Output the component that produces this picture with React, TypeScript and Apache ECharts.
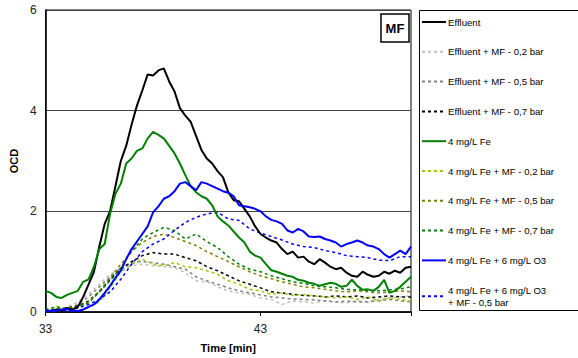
import React, { useEffect, useRef } from "react";
import * as echarts from "echarts";

// time axis for the filtered (dashed) series, 0.5 min steps
const times = [33, 33.5, 34, 34.5, 35, 35.5, 36, 36.5, 37, 37.5, 38, 38.5, 39, 39.5, 40, 40.5, 41, 41.5, 42, 42.5, 43, 43.5, 44, 44.5, 45, 45.5, 46, 46.5, 47, 47.5, 48, 48.5, 49, 49.5, 50];
// time axis for the unfiltered (solid) series, 0.25 min steps
const timesFine = [33, 33.25, 33.5, 33.75, 34, 34.25, 34.5, 34.75, 35, 35.25, 35.5, 35.75, 36, 36.25, 36.5, 36.75, 37, 37.25, 37.5, 37.75, 38, 38.25, 38.5, 38.75, 39, 39.25, 39.5, 39.75, 40, 40.25, 40.5, 40.75, 41, 41.25, 41.5, 41.75, 42, 42.25, 42.5, 42.75, 43, 43.25, 43.5, 43.75, 44, 44.25, 44.5, 44.75, 45, 45.25, 45.5, 45.75, 46, 46.25, 46.5, 46.75, 47, 47.25, 47.5, 47.75, 48, 48.25, 48.5, 48.75, 49, 49.25, 49.5, 49.75, 50];

const effluent = [0.0, 0.02, 0.05, 0.03, 0.08, 0.05, 0.1, 0.3, 0.55, 0.8, 1.3, 1.75, 2.0, 2.5, 3.0, 3.3, 3.72, 4.1, 4.4, 4.72, 4.7, 4.8, 4.84, 4.58, 4.38, 4.05, 3.9, 3.78, 3.5, 3.22, 3.05, 2.95, 2.8, 2.68, 2.38, 2.22, 2.2, 2.05, 1.9, 1.7, 1.55, 1.48, 1.42, 1.38, 1.25, 1.15, 1.2, 1.08, 1.1, 1.0, 0.95, 1.05, 0.98, 0.9, 0.85, 0.88, 0.78, 0.72, 0.7, 0.8, 0.74, 0.7, 0.72, 0.8, 0.76, 0.82, 0.78, 0.88, 0.9];
const effMF02 = [0.0, 0.02, 0.1, 0.2, 0.35, 0.55, 0.75, 0.85, 0.92, 0.95, 0.92, 0.9, 0.88, 0.78, 0.62, 0.6, 0.5, 0.42, 0.38, 0.35, 0.28, 0.25, 0.15, 0.22, 0.2, 0.18, 0.22, 0.2, 0.18, 0.22, 0.2, 0.25, 0.28, 0.3, 0.32];
const effMF05 = [0.0, 0.03, 0.06, 0.15, 0.3, 0.5, 0.7, 0.88, 0.98, 1.0, 0.98, 0.95, 0.9, 0.85, 0.7, 0.62, 0.55, 0.48, 0.42, 0.38, 0.34, 0.3, 0.28, 0.26, 0.25, 0.24, 0.22, 0.2, 0.22, 0.2, 0.2, 0.22, 0.25, 0.22, 0.2];
const effMF07 = [0.0, 0.05, 0.08, 0.12, 0.22, 0.4, 0.65, 0.85, 1.0, 1.12, 1.18, 1.15, 1.15, 1.08, 1.02, 0.9, 0.82, 0.72, 0.62, 0.55, 0.48, 0.4, 0.38, 0.35, 0.33, 0.32, 0.3, 0.32, 0.3, 0.32, 0.28, 0.3, 0.32, 0.3, 0.3];
const fe = [0.42, 0.38, 0.3, 0.28, 0.34, 0.38, 0.42, 0.6, 0.65, 0.9, 1.25, 1.35, 1.95, 2.35, 2.55, 2.95, 3.05, 3.2, 3.25, 3.45, 3.58, 3.52, 3.45, 3.3, 3.15, 2.95, 2.72, 2.5, 2.38, 2.3, 2.25, 2.12, 1.9, 1.8, 1.72, 1.6, 1.48, 1.38, 1.2, 1.12, 1.08, 0.95, 0.83, 0.8, 0.76, 0.72, 0.7, 0.64, 0.62, 0.58, 0.56, 0.52, 0.55, 0.58, 0.56, 0.5, 0.52, 0.64, 0.52, 0.44, 0.45, 0.42, 0.5, 0.64, 0.38, 0.42, 0.5, 0.6, 0.7];
const feMF02 = [0.02, 0.12, 0.05, 0.02, 0.08, 0.2, 0.48, 0.8, 0.95, 1.05, 0.95, 0.92, 0.98, 0.9, 0.88, 0.82, 0.75, 0.62, 0.55, 0.45, 0.42, 0.35, 0.38, 0.33, 0.35, 0.32, 0.3, 0.28, 0.3, 0.25, 0.3, 0.22, 0.28, 0.25, 0.22];
const feMF05 = [0.02, 0.05, 0.08, 0.1, 0.2, 0.42, 0.68, 0.95, 1.2, 1.38, 1.5, 1.55, 1.48, 1.4, 1.32, 1.2, 1.1, 1.0, 0.9, 0.8, 0.72, 0.66, 0.6, 0.55, 0.5, 0.48, 0.45, 0.42, 0.4, 0.42, 0.4, 0.38, 0.4, 0.42, 0.4];
const feMF07 = [0.05, 0.1, 0.04, 0.12, 0.18, 0.4, 0.62, 0.88, 1.2, 1.45, 1.58, 1.68, 1.62, 1.45, 1.55, 1.4, 1.28, 1.1, 0.95, 0.85, 0.8, 0.72, 0.66, 0.6, 0.57, 0.52, 0.5, 0.48, 0.45, 0.44, 0.43, 0.42, 0.44, 0.46, 0.5];
const feO3 = [0.0, 0.03, 0.02, 0.05, 0.06, 0.02, 0.02, 0.05, 0.1, 0.15, 0.25, 0.38, 0.52, 0.68, 0.82, 1.05, 1.25, 1.4, 1.55, 1.7, 1.98, 2.1, 2.25, 2.3, 2.4, 2.55, 2.58, 2.5, 2.42, 2.58, 2.55, 2.5, 2.45, 2.4, 2.37, 2.3, 2.12, 2.1, 2.08, 2.05, 2.0, 1.9, 1.83, 1.8, 1.75, 1.62, 1.58, 1.65, 1.6, 1.5, 1.49, 1.5, 1.45, 1.42, 1.38, 1.3, 1.35, 1.38, 1.42, 1.38, 1.32, 1.3, 1.25, 1.15, 1.08, 1.15, 1.22, 1.15, 1.3];
const feO3MF05 = [0.03, 0.05, 0.02, 0.08, 0.15, 0.25, 0.4, 0.65, 0.95, 1.2, 1.35, 1.45, 1.62, 1.78, 1.88, 1.95, 1.98, 1.85, 1.82, 1.65, 1.57, 1.5, 1.43, 1.35, 1.3, 1.28, 1.22, 1.18, 1.12, 1.1, 1.08, 1.03, 1.02, 1.1, 1.1];

const seriesNames = [
  "Effluent",
  "Effluent + MF - 0,2 bar",
  "Effluent + MF - 0,5 bar",
  "Effluent + MF - 0,7 bar",
  "4 mg/L Fe",
  "4 mg/L Fe + MF - 0,2 bar",
  "4 mg/L Fe + MF - 0,5 bar",
  "4 mg/L Fe + MF - 0,7 bar",
  "4 mg/L Fe + 6 mg/L O3",
  "4 mg/L Fe + 6 mg/L O3\n+ MF - 0,5 bar",
];
const seriesValues = [effluent, effMF02, effMF05, effMF07, fe, feMF02, feMF05, feMF07, feO3, feO3MF05];
const seriesColors = ["#000000", "#c0c0c0", "#808080", "#000000", "#008000", "#99cc00", "#808000", "#008000", "#0000ff", "#0000ff"];
const seriesDashed = [false, true, true, true, false, true, true, true, false, true];

const yTicks = [0, 2, 4, 6];
const xTicks = [33, 43];

export default function App() {
  const ref = useRef<HTMLDivElement>(null);
  useEffect(() => {
    if (!ref.current) return;
    const chart = echarts.init(ref.current, null, { renderer: "svg" });
    const font = "Liberation Sans, Arial, sans-serif";
    chart.setOption({
      animation: false,
      grid: { left: 43, top: 10, right: 167, bottom: 46, show: true, borderColor: "#000", borderWidth: 1 },
      xAxis: {
        type: "value",
        min: 33,
        max: 50,
        interval: 10,
        name: "Time [min]",
        nameLocation: "middle",
        nameGap: 30,
        nameTextStyle: { fontFamily: font, fontSize: 11, fontWeight: "bold", color: "#000" },
        axisLine: { lineStyle: { color: "#000", width: 1.5 } },
        axisTick: { show: true, length: 4, lineStyle: { color: "#000" } },
        axisLabel: {
          fontFamily: font, fontSize: 12, color: "#222", margin: 11,
          formatter: (v: number) => (xTicks.includes(v) ? String(v) : ""),
        },
        splitLine: { show: false },
      },
      yAxis: {
        type: "value",
        min: 0,
        max: 6,
        interval: 2,
        name: "OCD",
        nameLocation: "middle",
        nameGap: 24,
        nameRotate: 90,
        nameTextStyle: { fontFamily: font, fontSize: 11, fontWeight: "bold", color: "#000" },
        axisLine: { show: true, lineStyle: { color: "#000", width: 1.5 } },
        axisTick: { show: false },
        axisLabel: {
          fontFamily: font, fontSize: 12, color: "#222", margin: 9,
          formatter: (v: number) => (yTicks.includes(v) ? String(v) : ""),
        },
        splitLine: { show: true, lineStyle: { color: "#444", width: 1 } },
      },
      legend: {
        orient: "vertical",
        left: 421,
        top: 16,
        itemWidth: 24,
        itemHeight: 10,
        itemGap: 17.8,
        padding: 0,
        itemStyle: { opacity: 0 },
        textStyle: { fontFamily: font, fontSize: 9.6, color: "#000", lineHeight: 12, padding: [0, 0, 0, -3] },
        data: seriesNames,
      },
      graphic: [
        {
          type: "rect",
          shape: { x: 419.5, y: 10.5, width: 170, height: 300 },
          style: { fill: "none", stroke: "#000", lineWidth: 1 },
          z: 100,
        },
        {
          type: "rect",
          shape: { x: 381, y: 14, width: 28, height: 28 },
          style: { fill: "#fff", stroke: "#000", lineWidth: 1.5 },
          z: 100,
        },
        {
          type: "text",
          x: 395,
          y: 28,
          style: { text: "MF", fontFamily: font, fontSize: 13, fontWeight: "bold", fill: "#000", align: "center", verticalAlign: "middle" },
          z: 101,
        },
      ],
      series: seriesNames.map((name, i) => {
        const t = seriesDashed[i] ? times : timesFine;
        return {
          name,
          type: "line",
          data: t.map((x, j) => [x, seriesValues[i][j]]),
          symbol: "none",
          lineStyle: {
            color: seriesColors[i],
            width: seriesDashed[i] ? 1.5 : 2,
            type: seriesDashed[i] ? [3, 3] : "solid",
          },
          itemStyle: { color: seriesColors[i] },
          z: seriesDashed[i] ? 2 : 3,
        };
      }),
    });
    return () => chart.dispose();
  }, []);
  return <div ref={ref} style={{ width: 578, height: 358, position: "absolute", left: 0, top: 0 }} />;
}
